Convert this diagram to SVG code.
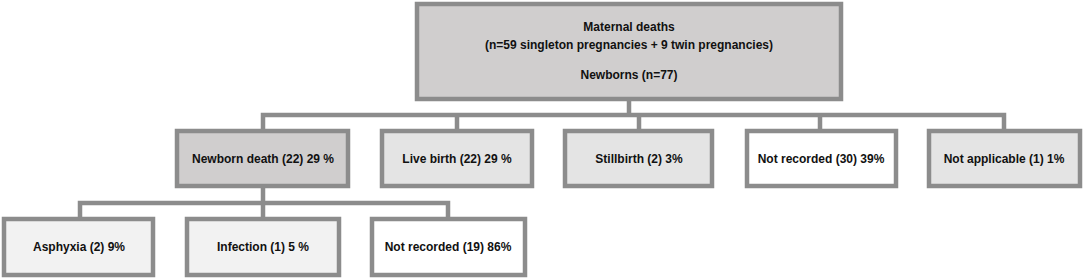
<svg xmlns="http://www.w3.org/2000/svg" width="1084" height="278" viewBox="0 0 1084 278">
<style>
.box{stroke:#8c8c8c;stroke-width:4.5}
.d{fill:#d0cece}
.m{fill:#e4e4e4}
.l{fill:#f2f2f2}
.w{fill:#ffffff}
.t{font-family:"Liberation Sans",Arial,sans-serif;font-weight:bold;font-size:12px;fill:#111;text-anchor:middle}
.c{fill:none;stroke:#8c8c8c;stroke-width:4.5}
</style>
<rect width="1084" height="278" fill="#fff"/>
<g id="connectors">
<path class="c" d="M629 101V115M263 130V115H1004V130M457 115V130M639 115V130M820 115V130"/>
<path class="c" d="M263 188V203M80 219V203H448V219M263 203V219"/>
</g>
<g id="maternal">
<rect class="box d" x="417" y="4" width="424" height="95"/>
<text class="t" x="629" y="31">Maternal deaths</text>
<text class="t" x="629" y="49">(n=59 singleton pregnancies + 9 twin pregnancies)</text>
<text class="t" x="629" y="79">Newborns (n=77)</text>
</g>
<g id="newborn-death">
<rect class="box d" x="177" y="131" width="171" height="55"/>
<text class="t" x="263" y="163">Newborn death (22) 29 %</text>
</g>
<g id="live-birth">
<rect class="box m" x="382" y="131" width="150" height="55"/>
<text class="t" x="457" y="163">Live birth (22) 29 %</text>
</g>
<g id="stillbirth">
<rect class="box m" x="565" y="131" width="147" height="55"/>
<text class="t" x="639" y="163">Stillbirth (2) 3%</text>
</g>
<g id="not-recorded-30">
<rect class="box w" x="747" y="131" width="149" height="55"/>
<text class="t" x="821" y="163">Not recorded (30) 39%</text>
</g>
<g id="not-applicable">
<rect class="box m" x="929" y="131" width="151" height="55"/>
<text class="t" x="1004" y="163">Not applicable (1) 1%</text>
</g>
<g id="asphyxia">
<rect class="box l" x="4" y="219" width="149" height="56"/>
<text class="t" x="79" y="251">Asphyxia (2) 9%</text>
</g>
<g id="infection">
<rect class="box l" x="187" y="219" width="152" height="56"/>
<text class="t" x="263" y="251">Infection (1) 5 %</text>
</g>
<g id="not-recorded-19">
<rect class="box w" x="372" y="219" width="153" height="56"/>
<text class="t" x="448" y="251">Not recorded (19) 86%</text>
</g>
</svg>
